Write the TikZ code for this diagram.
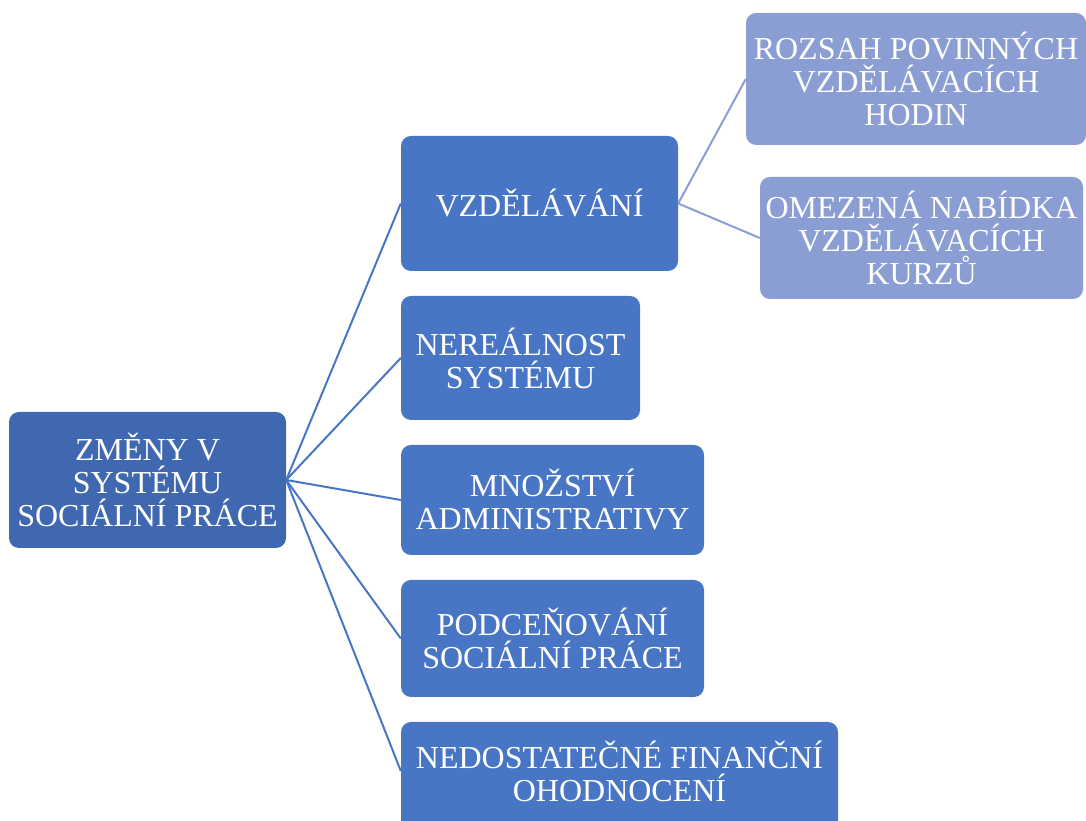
\documentclass[tikz,border=0pt]{standalone}
\usepackage{fontspec}
\setmainfont{Liberation Serif}
\definecolor{rootblue}{HTML}{3F68B1}
\definecolor{midblue}{HTML}{4876C5}
\definecolor{paleblue}{HTML}{8A9ED3}
\begin{document}
\begin{tikzpicture}[x=1pt,y=1pt,
  box/.style={rounded corners=10pt, text=white, align=center, inner sep=0pt,
    font=\fontsize{32}{33}\selectfont},
  rootbox/.style={box, fill=rootblue},
  midbox/.style={box, fill=midblue},
  leafbox/.style={box, fill=paleblue},
  link/.style={draw=midblue, line width=2pt},
  leaflink/.style={draw=paleblue, line width=2pt}]
\useasboundingbox (0,0) rectangle (1086,821);
\clip (0,0) rectangle (1086,821);
% root
\node[rootbox, minimum width=277pt, minimum height=136pt] (root) at (147.5,341)
  {ZMĚNY V\\SYSTÉMU\\SOCIÁLNÍ PRÁCE};
% second level
\node[midbox, minimum width=277pt, minimum height=135pt] (vzd) at (539.5,617.5) {VZDĚLÁVÁNÍ};
\node[midbox, minimum width=239pt, minimum height=124pt] (ner) at (520.5,463) {NEREÁLNOST\\SYSTÉMU};
\node[midbox, minimum width=303pt, minimum height=110pt] (mno) at (552.5,321) {MNOŽSTVÍ\\ADMINISTRATIVY};
\node[midbox, minimum width=303pt, minimum height=117pt] (pod) at (552.5,182.5) {PODCEŇOVÁNÍ\\SOCIÁLNÍ PRÁCE};
\node[midbox, minimum width=437pt, minimum height=110pt] (ned) at (619.5,44) {};
\node[text=white, align=center, font=\fontsize{32}{33}\selectfont] (nedtext) at (619.5,50)
  {NEDOSTATEČNÉ FINANČNÍ\\OHODNOCENÍ};
% third level
\node[leafbox, minimum width=340pt, minimum height=132pt] (roz) at (916,742)
  {ROZSAH POVINNÝCH\\VZDĚLÁVACÍCH\\HODIN};
\node[leafbox, minimum width=323pt, minimum height=122pt] (ome) at (921.5,583)
  {OMEZENÁ NABÍDKA\\VZDĚLÁVACÍCH\\KURZŮ};
% connectors
\draw[link] (root.east) -- (vzd.west);
\draw[link] (root.east) -- (ner.west);
\draw[link] (root.east) -- (mno.west);
\draw[link] (root.east) -- (pod.west);
\draw[link] (root.east) -- (ned.west |- nedtext.center);
\draw[leaflink] (vzd.east) -- (roz.west);
\draw[leaflink] (vzd.east) -- (ome.west);
\end{tikzpicture}
\end{document}
